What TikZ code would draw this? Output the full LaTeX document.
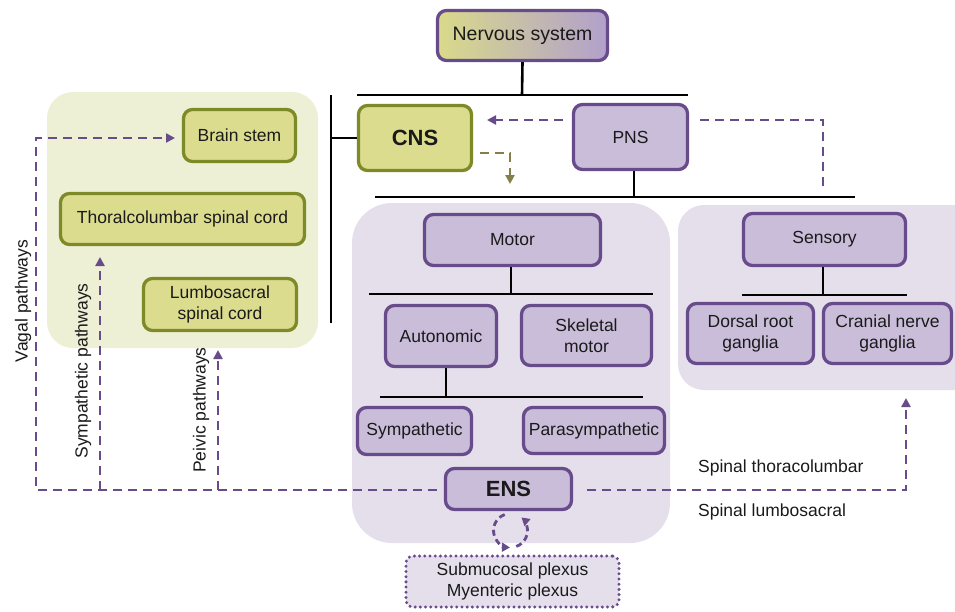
\documentclass[tikz,border=0pt]{standalone}
\usepackage{fontspec}
\setmainfont{Liberation Sans}
\usetikzlibrary{arrows.meta,calc,shapes.misc}
\definecolor{pdark}{HTML}{684B8A}
\definecolor{pbox}{HTML}{C9BDDA}
\definecolor{ppanel}{HTML}{E4DFEB}
\definecolor{odark}{HTML}{7E8A28}
\definecolor{ybox}{HTML}{DBDC8E}
\definecolor{ypanel}{HTML}{EEF0D6}
\definecolor{oarrow}{HTML}{857F4C}
\definecolor{txt}{HTML}{1A1A1A}
\tikzset{
  base/.style={rounded corners=9pt, line width=3.3pt, align=center, inner sep=0pt, text=txt,
    font=\fontsize{17.5}{21}\selectfont},
  pbx/.style={base, draw=pdark, fill=pbox},
  ybx/.style={base, draw=odark, fill=ybox},
  tree/.style={line width=2.6pt, black},
  pdash/.style={draw=pdark, line width=2.8pt, dash pattern=on 9pt off 6pt},
  odash/.style={draw=oarrow, line width=2.8pt, dash pattern=on 9pt off 6pt},
  tip/.style={-{Triangle[length=9pt,width=9pt]}},
  lbl/.style={text=txt, font=\fontsize{17.5}{21}\selectfont, inner sep=0pt},
}
\begin{document}
\begin{tikzpicture}[x=1pt,y=-1pt]
\useasboundingbox (0,0) rectangle (955,611);
% panels
\fill[ypanel, rounded corners=26pt] (47,92) rectangle (318,348);
\fill[ppanel, rounded corners=40pt] (352,203) rectangle (670,543);
\fill[ppanel, rounded corners=26pt] (678,205) rectangle (985,390);

% nodes
\node[base, draw=pdark, shading=axis, left color={rgb,255:red,217;green,218;blue,138}, middle color={rgb,255:red,220;green,214;blue,206}, right color={rgb,255:red,178;green,160;blue,204}, minimum width=170pt, minimum height=50pt, font=\fontsize{19.5}{23}\selectfont] (ns) at (522.5,35.5) {Nervous system};
\node[ybx, minimum width=113pt, minimum height=65pt, font=\fontsize{22}{26}\selectfont\bfseries] (cns) at (415,138) {CNS};
\node[pbx, minimum width=114pt, minimum height=65pt] (pns) at (630.5,137) {PNS};
\node[ybx, minimum width=112pt, minimum height=52pt] (bs) at (239.5,135.5) {Brain stem};
\node[ybx, minimum width=244pt, minimum height=51pt] (tl) at (182.5,219) {Thoralcolumbar spinal cord};
\node[ybx, minimum width=153pt, minimum height=52pt] (ls) at (220,304.5) {Lumbosacral\\spinal cord};
\node[pbx, minimum width=176pt, minimum height=51pt] (motor) at (512.5,240) {Motor};
\node[pbx, minimum width=111pt, minimum height=61pt] (auto) at (441,336) {Autonomic};
\node[pbx, minimum width=130pt, minimum height=60pt] (skel) at (586.5,335.5) {Skeletal\\motor};
\node[pbx, minimum width=114pt, minimum height=47pt] (symp) at (414.5,431) {Sympathetic};
\node[pbx, minimum width=141pt, minimum height=46pt] (para) at (594,430.5) {Parasympathetic};
\node[pbx, minimum width=126pt, minimum height=41pt, font=\fontsize{22}{26}\selectfont\bfseries] (ens) at (508.5,489) {ENS};
\node[base, draw=pdark, fill=ppanel, line width=3.3pt, dash pattern=on 0pt off 5.2pt, line cap=round, minimum width=213pt, minimum height=51pt, rounded corners=7pt] (plex) at (512.5,581.5) {Submucosal plexus\\Myenteric plexus};
\node[pbx, minimum width=162pt, minimum height=52pt] (sens) at (824.5,239.5) {Sensory};
\node[pbx, minimum width=126pt, minimum height=60pt] (drg) at (750.5,333.5) {Dorsal root\\ganglia};
\node[pbx, minimum width=128pt, minimum height=60pt] (cng) at (887.5,333.5) {Cranial nerve\\ganglia};

% tree lines
\coordinate (t1) at (522,95);
\draw[tree] (ns.south) -- (t1);
\draw[tree] (357,95) -- (688,95);
\coordinate (lb) at (331,138);
\draw[tree] (331,95) -- (331,323);
\draw[tree] (lb) -- (cns.west);
\coordinate (t2) at (634,197);
\draw[tree] (pns.south -| t2) -- (t2);
\draw[tree] (375,197) -- (855,197);
\coordinate (t3) at (511,294);
\draw[tree] (motor.south -| t3) -- (t3);
\draw[tree] (369,294) -- (653,294);
\coordinate (t4) at (446,397);
\draw[tree] (auto.south -| t4) -- (t4);
\draw[tree] (380,397) -- (643,397);
\coordinate (t5) at (823,295);
\draw[tree] (sens.south -| t5) -- (t5);
\draw[tree] (742,295) -- (907,295);

% dashed pathways
\coordinate (pa) at (563,120);
\coordinate (pb) at (487,120);
\draw[pdash, tip] (pa) -- (pb);
\coordinate (pc) at (700,120);
\coordinate (pd) at (823,120);
\coordinate (pe) at (823,188);
\draw[pdash] (pc) -- (pd) -- (pe);
\coordinate (oa) at (480,153);
\coordinate (ob) at (510,153);
\coordinate (oc) at (510,184);
\draw[odash, tip] (oa) -- (ob) -- (oc);

\coordinate (ea) at (437,490);
\coordinate (va) at (36,490);
\coordinate (vb) at (36,138);
\coordinate (vc) at (175,138);
\draw[pdash, tip] (ea) -- (va) -- (vb) -- (vc);
\coordinate (sa) at (100,490);
\coordinate (sb) at (100,257);
\draw[pdash, tip] (sa) -- (sb);
\coordinate (la) at (218,490);
\coordinate (lb2) at (218,350);
\draw[pdash, tip] (la) -- (lb2);

\coordinate (ra) at (587,490);
\coordinate (rb) at (906,490);
\coordinate (rc) at (906,398);
\draw[pdash, tip] (ra) -- (rb) -- (rc);

% cycle between ENS and plexus
\coordinate (cc) at (510.5,530.5);
\draw[draw=pdark, line width=2.8pt, dash pattern=on 6pt off 4pt, -{Triangle[length=8pt,width=9pt]}]
  ($(cc)+(-110:17)$) arc[start angle=-110, end angle=-268, radius=17];
\draw[draw=pdark, line width=2.8pt, dash pattern=on 6pt off 4pt, -{Triangle[length=8pt,width=9pt]}]
  ($(cc)+(-290:17)$) arc[start angle=-290, end angle=-410, radius=17];

% labels
\node[lbl, rotate=90] (lv) at (23,301) {Vagal pathways};
\node[lbl, rotate=90] (lsy) at (83,371) {Sympathetic pathways};
\node[lbl, rotate=90] (lp) at (201,410) {Peivic pathways};
\node[lbl, anchor=west] (lst) at (698,468) {Spinal thoracolumbar};
\node[lbl, anchor=west] (lsl) at (698,512) {Spinal lumbosacral};
\end{tikzpicture}
\end{document}
